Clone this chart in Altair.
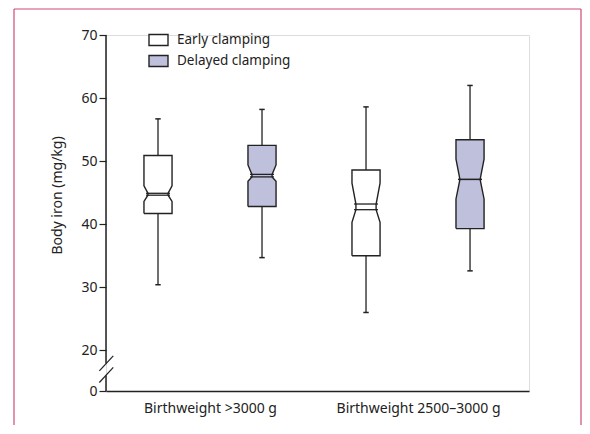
import altair as alt
import pandas as pd

# ---------------- data ----------------
categories = ["Birthweight >3000 g", "Birthweight 2500–3000 g"]
series = ["Early clamping", "Delayed clamping"]

# one entry per box: (>3000 early), (>3000 delayed), (2500-3000 early), (2500-3000 delayed)
box_category = [0, 0, 1, 1]
box_series = [0, 1, 0, 1]
whisker_low = [30.4, 34.7, 26.0, 32.6]
q1 = [41.7, 42.8, 35.0, 39.3]
notch_low = [43.6, 46.8, 40.3, 44.0]
median_low = [44.6, 47.5, 42.3, 47.1]
median_high = [44.9, 47.9, 43.2, 47.1]
notch_high = [46.1, 49.4, 46.5, 50.3]
q3 = [50.9, 52.5, 48.6, 53.4]
whisker_high = [56.7, 58.2, 58.6, 62.0]

y_ticks = [20, 30, 40, 50, 60, 70]

# ---------------- styling constants ----------------
FONT = "Noto Sans"
INK = "#222222"
FRAME = "#cf4a72"
FILLS = ["#ffffff", "#bfc1dc"]
W, H = 423, 356
axis_zero = 13.55          # where the "0" sits below the axis break
x_max = 4.067              # x domain (box slots are 1 unit wide)
half_box = 0.135
half_waist = 0.097
half_median = 0.115
half_cap = 0.026

# ---------------- derived tables ----------------
centers = [c * 2 + s + 0.5 for c, s in zip(box_category, box_series)]

poly_rows = []
for i, c in enumerate(centers):
    left = [
        (q1[i], half_box), (notch_low[i], half_box), (median_low[i], half_waist),
        (median_high[i], half_waist), (notch_high[i], half_box), (q3[i], half_box),
    ]
    outline = [(yv, c - hw) for yv, hw in left] + \
              [(yv, c + hw) for yv, hw in reversed(left)] + \
              [(left[0][0], c - left[0][1])]
    for k, (yv, xv) in enumerate(outline):
        poly_rows.append({"box": i, "k": k, "y": yv, "x": xv,
                          "series": series[box_series[i]]})
poly = pd.DataFrame(poly_rows)

stats = pd.DataFrame({
    "box": list(range(len(centers))),
    "c": centers,
    "wl": whisker_low, "q1": q1, "q3": q3, "wh": whisker_high,
    "ml": median_low, "mh": median_high,
})
stats["cl"] = stats["c"] - half_cap
stats["cr"] = stats["c"] + half_cap
stats["mxl"] = stats["c"] - half_median
stats["mxr"] = stats["c"] + half_median

caps = pd.concat([
    stats[["cl", "cr"]].assign(y=stats["wl"]),
    stats[["cl", "cr"]].assign(y=stats["wh"]),
])
medians = pd.concat([
    stats[["mxl", "mxr"]].assign(y=stats["ml"]),
    stats[["mxl", "mxr"]].assign(y=stats["mh"]),
])

x_scale = alt.Scale(domain=[0, x_max], nice=False, zero=False)
y_scale = alt.Scale(domain=[axis_zero, 70], nice=False, zero=False)

label_expr = " : ".join(
    f"datum.value == {ci * 2 + 1} ? '{name}'" for ci, name in enumerate(categories)
) + " : ''"

x_axis = alt.Axis(
    values=[ci * 2 + 1 for ci in range(len(categories))],
    labelExpr=label_expr, title=None, ticks=False, grid=False,
    domainColor=INK, domainWidth=1.5, labelFont=FONT, labelFontSize=14,
    labelColor=INK, labelPadding=10,
)
y_axis = alt.Axis(
    values=[axis_zero] + y_ticks,
    labelExpr="datum.value < 19 ? '0' : format(datum.value, 'd')",
    title="Body iron (mg/kg)", titleFont=FONT, titleFontSize=14,
    titleFontWeight="normal", titleColor=INK, titleAngle=-90,
    titleX=-49, titleY=160, titleAlign="center", titleBaseline="middle",
    domain=False, grid=False, tickColor=INK, tickSize=7, tickWidth=1.2,
    labelFont=FONT, labelFontSize=14, labelColor=INK, labelPadding=2,
)

one = pd.DataFrame({"a": [0]})

# frame (decoration)
frame = alt.Chart(one).mark_rule(color=FRAME, strokeWidth=1.2).encode(
    x=alt.value(-92), x2=alt.value(475), y=alt.value(-26)
)
frame_l = alt.Chart(one).mark_rule(color=FRAME, strokeWidth=1.2).encode(
    x=alt.value(-92), y=alt.value(-26), y2=alt.value(390)
)
frame_r = alt.Chart(one).mark_rule(color=FRAME, strokeWidth=1.2).encode(
    x=alt.value(475), y=alt.value(-26), y2=alt.value(390)
)

# y axis line with break
axis_segments = pd.DataFrame({"x": [0, 0], "y": [70, 16.0], "y2": [17.9, axis_zero]})
axis_line = alt.Chart(axis_segments).mark_rule(color=INK, strokeWidth=1.5).encode(
    x=alt.X("x:Q", scale=x_scale, axis=x_axis),
    y=alt.Y("y:Q", scale=y_scale, axis=y_axis),
    y2="y2:Q",
)
slashes_df = pd.DataFrame({
    "x": [-0.064, -0.064], "x2": [0.070, 0.070],
    "y": [16.75, 14.9], "y2": [19.13, 17.3],
})
slashes = alt.Chart(slashes_df).mark_rule(color=INK, strokeWidth=1.2).encode(
    x="x:Q", x2="x2:Q", y="y:Q", y2="y2:Q"
)

whisk_hi = alt.Chart(stats).mark_rule(color=INK, strokeWidth=1.3).encode(
    x="c:Q", y="q3:Q", y2="wh:Q"
)
whisk_lo = alt.Chart(stats).mark_rule(color=INK, strokeWidth=1.3).encode(
    x="c:Q", y="wl:Q", y2="q1:Q"
)
cap_rules = alt.Chart(caps).mark_rule(color=INK, strokeWidth=1.5).encode(
    x="cl:Q", x2="cr:Q", y="y:Q"
)

boxes = alt.Chart(poly).mark_line(
    stroke=INK, strokeWidth=1.4, strokeJoin="miter", interpolate="linear"
).encode(
    x="x:Q", y="y:Q",
    detail="box:N", order="k:Q",
    fill=alt.Fill(
        "series:N",
        scale=alt.Scale(domain=series, range=FILLS),
        legend=alt.Legend(
            title=None, orient="none", legendX=42, legendY=-5.5,
            symbolType="M-1,-0.58H1V0.58H-1Z", symbolSize=361,
            symbolStrokeColor=INK, symbolStrokeWidth=1.4,
            labelFont=FONT, labelFontSize=13.5, labelColor=INK,
            labelOffset=8, rowPadding=2,
        ),
    ),
)

median_rules = alt.Chart(medians).mark_rule(color=INK, strokeWidth=1.3).encode(
    x="mxl:Q", x2="mxr:Q", y="y:Q"
)

chart = alt.layer(
    frame, frame_l, frame_r, axis_line, slashes,
    whisk_hi, whisk_lo, cap_rules, boxes, median_rules,
).properties(
    width=W, height=H,
    padding={"left": 5, "top": 0, "right": 0, "bottom": 0},
).configure_view(stroke=None).configure(background="white")

chart.save("out.html", embed_options={"renderer": "svg", "actions": False})
